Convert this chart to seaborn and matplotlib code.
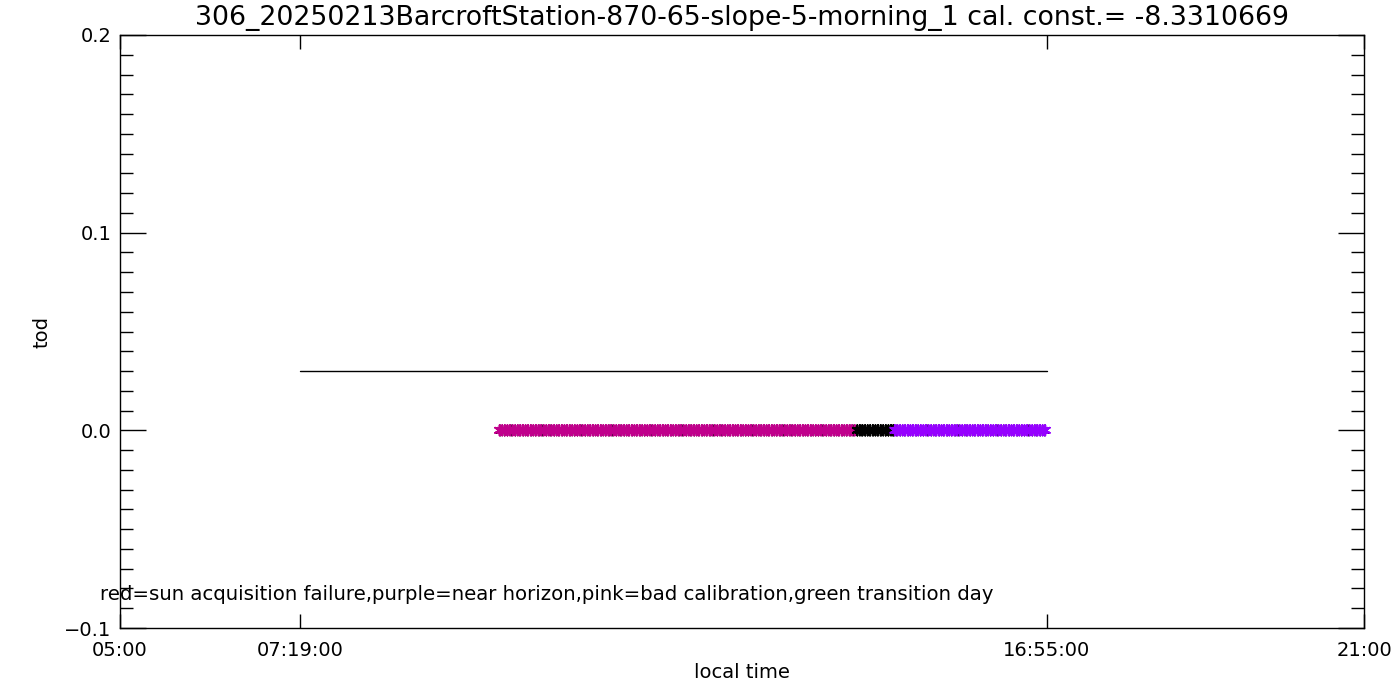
import numpy as np
import pandas as pd
import seaborn as sns
import matplotlib.pyplot as plt

# ------------------------------------------------------------------
# chart data
title = "306_20250213BarcroftStation-870-65-slope-5-morning_1 cal. const.= -8.3310669"
note = "red=sun acquisition failure,purple=near horizon,pink=bad calibration,green transition day"

x_tick_labels = ["05:00", "07:19:00", "16:55:00", "21:00"]
x_limits = ["05:00", "21:00"]
y_tick_values = [-0.1, 0.0, 0.1, 0.2]
y_tick_labels = ["\u22120.1", "0.0", "0.1", "0.2"]

# reference level drawn between sunrise and sunset
sunrise = "07:19:00"
sunset = "16:55:00"
ref_level = 0.03

# observation segments with their flag colour
seg_start = ["09:53", "14:29", "14:58"]
seg_end = ["14:29", "14:58", "16:55"]
seg_flag = ["pink", "none", "purple"]
tod_value = 0.0
flag_minutes = 2      # spacing of flagged points
all_minutes = 3       # spacing of all (black) points

flag_colors = {"pink": "#c0008c", "none": "black", "purple": "#9600ff"}


def to_hours(s):
    if s.count(":") == 1:
        s = s + ":00"
    return pd.to_timedelta(s).total_seconds() / 3600.0


# ------------------------------------------------------------------
# build the point tables
rows = []
for a, b, f in zip(seg_start, seg_end, seg_flag):
    for h in np.arange(to_hours(a), to_hours(b), flag_minutes / 60.0):
        rows.append({"hour": h, "tod": tod_value, "flag": f})
flagged = pd.DataFrame(rows)

all_pts = pd.DataFrame({
    "hour": np.arange(to_hours(seg_start[0]), to_hours(seg_end[-1]) + 1e-6, all_minutes / 60.0)
})
all_pts["tod"] = tod_value

ref_line = pd.DataFrame({"hour": [to_hours(sunrise), to_hours(sunset)],
                         "tod": [ref_level, ref_level]})

# ------------------------------------------------------------------
sns.set_style("ticks")
plt.rcParams['font.family'] = ['DejaVu Sans']
plt.rcParams['text.color'] = 'black'
plt.rcParams['axes.labelcolor'] = 'black'
plt.rcParams['xtick.labelcolor'] = 'black'
plt.rcParams['ytick.labelcolor'] = 'black'

fig = plt.figure(figsize=(14, 7), dpi=100)
ax = fig.add_axes([120 / 1400, 1 - 628 / 700, 1244 / 1400, 593 / 700])

asterisk = (6, 2, 0)
sns.lineplot(data=ref_line, x="hour", y="tod", color="black", linewidth=1.0, ax=ax)
sns.scatterplot(data=all_pts, x="hour", y="tod", color="black", marker=asterisk,
                s=55, linewidth=1.0, ax=ax, legend=False)
sns.scatterplot(data=flagged, x="hour", y="tod", hue="flag", palette=flag_colors,
                marker=asterisk, s=55, linewidth=1.4, ax=ax, legend=False)

ax.set_xlim(to_hours(x_limits[0]), to_hours(x_limits[1]))
ax.set_ylim(-0.1, 0.2)
ax.set_xticks([to_hours(t) for t in x_tick_labels])
ax.set_xticklabels(x_tick_labels)
ax.set_yticks(y_tick_values)
ax.set_yticklabels(y_tick_labels)
ax.set_yticks(np.round(np.arange(-0.1, 0.2001, 0.01), 2), minor=True)

ax.tick_params(axis="y", which="major", direction="in", length=18.5, width=1.0,
               left=True, right=True, labelsize=14, pad=6, color="black")
ax.tick_params(axis="y", which="minor", direction="in", length=9.5, width=1.0,
               left=True, right=True, color="black")
ax.tick_params(axis="x", which="major", direction="in", length=10, width=1.0,
               bottom=True, top=True, labelsize=14, pad=9, color="black")
for sp in ax.spines.values():
    sp.set_visible(True)
    sp.set_linewidth(1.0)
    sp.set_color("black")

ax.set_xlabel("local time", fontsize=14)
ax.xaxis.set_label_coords(0.5, -35 / 593)
ax.set_ylabel("tod", fontsize=14)
ax.yaxis.set_label_coords(-68 / 1244, 0.5)
ax.set_title(title, fontsize=19.3, pad=7)

fig.text(100 / 1400, 1 - 594 / 700, note, fontsize=14.2, va="center", ha="left")

fig.savefig("out.png", dpi=100)
